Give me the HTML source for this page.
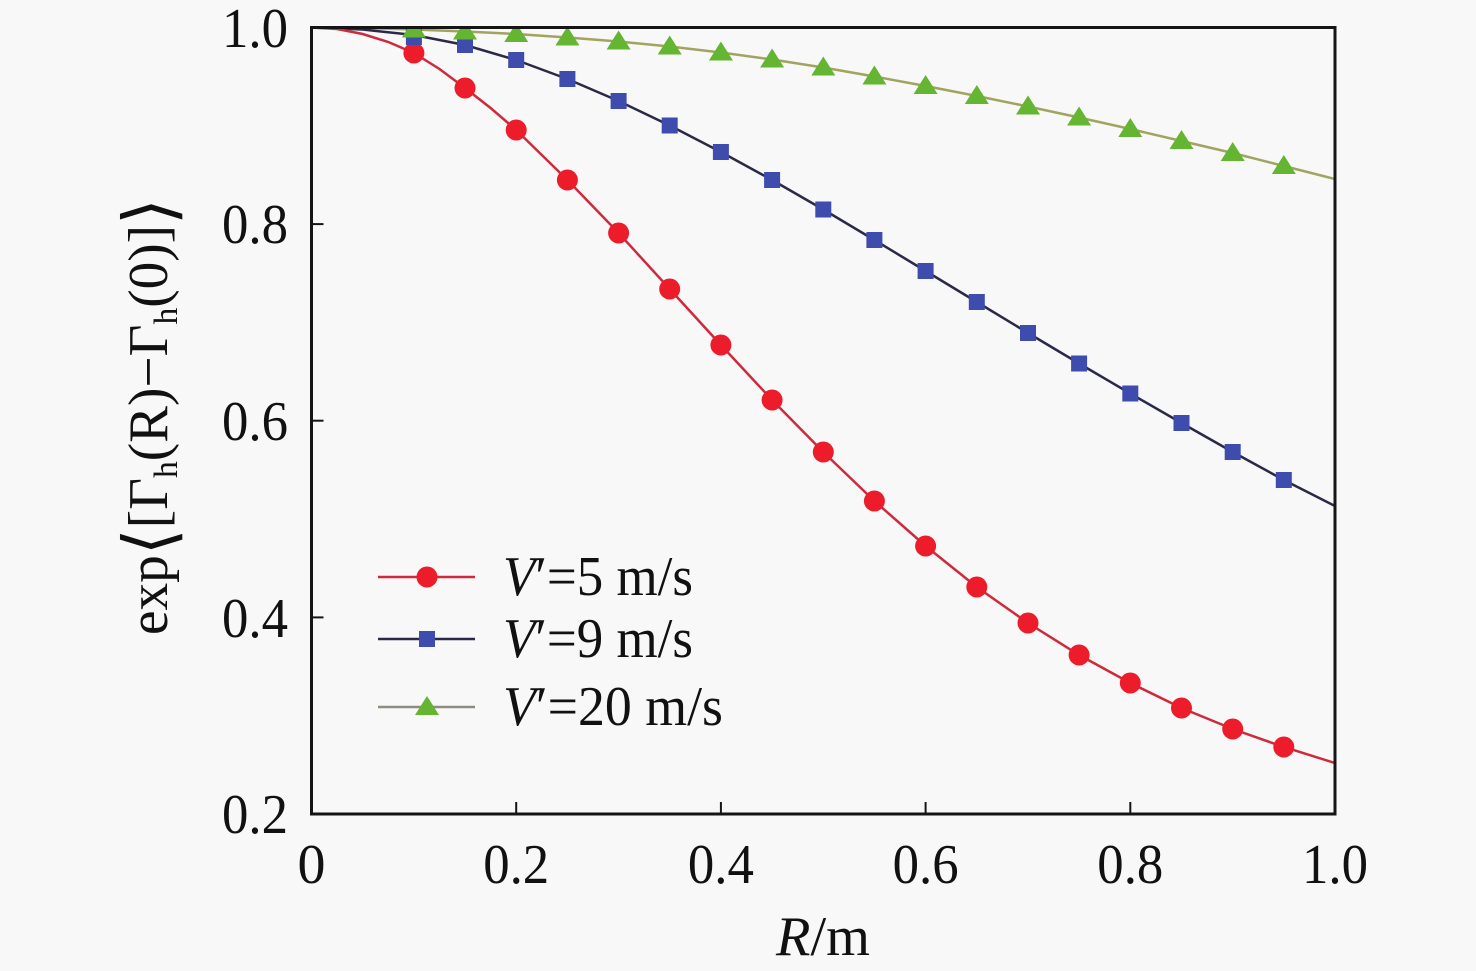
<!DOCTYPE html>
<html>
<head>
<meta charset="utf-8">
<style>
html,body{margin:0;padding:0;background:#f8f8f8;}
svg{display:block;}
text{font-family:"Liberation Serif","DejaVu Serif",serif;fill:#111;}
</style>
</head>
<body>
<svg width="1476" height="971" viewBox="0 0 1476 971" xmlns="http://www.w3.org/2000/svg">
<defs>
<clipPath id="pa"><rect x="311.5" y="27.5" width="1023.5" height="786.5"/></clipPath>
</defs>
<rect x="0" y="0" width="1476" height="971" fill="#f8f8f8"/>

<g clip-path="url(#pa)">
<!-- green line -->
<polyline fill="none" stroke="#a0a45e" stroke-width="2.5" points="311.5,27.5 362.7,28 413.9,29.5 465,31.5 516.2,34 567.4,37.5 618.6,41.5 669.7,46.5 720.9,52.5 772.1,59.5 823.3,67.5 874.4,76.5 925.6,86 976.8,96 1028,106.5 1079.1,117.5 1130.3,129 1181.5,141 1232.7,153 1283.8,166 1335,179"/>
<!-- blue line -->
<polyline fill="none" stroke="#2a2a48" stroke-width="2.5" points="311.5,27.5 362.7,29.5 413.9,35 465,45 516.2,60 567.4,79 618.6,101 669.7,125.5 720.9,152 772.1,180 823.3,209.5 874.4,240 925.6,271 976.8,302 1028,333 1079.1,363.5 1130.3,393.5 1181.5,423 1232.7,452 1283.8,480 1335,506"/>
<!-- red line -->
<polyline fill="none" stroke="#cf2a3c" stroke-width="2.5" points="311.5,27.5 337.1,29 362.7,34 388.3,42 413.9,53 439.5,69 465,88 490.6,108 516.2,130 567.4,180 618.6,233 669.7,289 720.9,345 772.1,400 823.3,452 874.4,501 925.6,546 976.8,587 1028,623 1079.1,655 1130.3,683 1181.5,708 1232.7,729 1283.8,747 1335,763"/>

<!-- red markers -->
<g fill="#ec1c2a">
<circle cx="413.9" cy="53" r="10.5"/><circle cx="465" cy="88" r="10.5"/><circle cx="516.2" cy="130" r="10.5"/><circle cx="567.4" cy="180" r="10.5"/><circle cx="618.6" cy="233" r="10.5"/><circle cx="669.7" cy="289" r="10.5"/><circle cx="720.9" cy="345" r="10.5"/><circle cx="772.1" cy="400" r="10.5"/><circle cx="823.3" cy="452" r="10.5"/><circle cx="874.4" cy="501" r="10.5"/><circle cx="925.6" cy="546" r="10.5"/><circle cx="976.8" cy="587" r="10.5"/><circle cx="1028" cy="623" r="10.5"/><circle cx="1079.1" cy="655" r="10.5"/><circle cx="1130.3" cy="683" r="10.5"/><circle cx="1181.5" cy="708" r="10.5"/><circle cx="1232.7" cy="729" r="10.5"/><circle cx="1283.8" cy="747" r="10.5"/>
</g>
<!-- blue markers -->
<g fill="#3e4cae">
<rect x="405.9" y="29" width="16" height="16"/><rect x="457" y="37" width="16" height="16"/><rect x="508.2" y="52" width="16" height="16"/><rect x="559.4" y="71" width="16" height="16"/><rect x="610.6" y="93" width="16" height="16"/><rect x="661.7" y="117.5" width="16" height="16"/><rect x="712.9" y="144" width="16" height="16"/><rect x="764.1" y="172" width="16" height="16"/><rect x="815.3" y="201.5" width="16" height="16"/><rect x="866.4" y="232" width="16" height="16"/><rect x="917.6" y="263" width="16" height="16"/><rect x="968.8" y="294" width="16" height="16"/><rect x="1020" y="325" width="16" height="16"/><rect x="1071.1" y="355.5" width="16" height="16"/><rect x="1122.3" y="385.5" width="16" height="16"/><rect x="1173.5" y="415" width="16" height="16"/><rect x="1224.7" y="444" width="16" height="16"/><rect x="1275.8" y="472" width="16" height="16"/>
</g>
<!-- green markers -->
<g fill="#64b532">
<polygon points="413.9,18.5 401.9,37.5 425.9,37.5"/>
<polygon points="465,20.5 453,39.5 477,39.5"/>
<polygon points="516.2,23 504.2,42 528.2,42"/>
<polygon points="567.4,26.5 555.4,45.5 579.4,45.5"/>
<polygon points="618.6,30.5 606.6,49.5 630.6,49.5"/>
<polygon points="669.7,35.5 657.7,54.5 681.7,54.5"/>
<polygon points="720.9,41.5 708.9,60.5 732.9,60.5"/>
<polygon points="772.1,48.5 760.1,67.5 784.1,67.5"/>
<polygon points="823.3,56.5 811.3,75.5 835.3,75.5"/>
<polygon points="874.4,65.5 862.4,84.5 886.4,84.5"/>
<polygon points="925.6,75 913.6,94 937.6,94"/>
<polygon points="976.8,85 964.8,104 988.8,104"/>
<polygon points="1028,95.5 1016,114.5 1040,114.5"/>
<polygon points="1079.1,106.5 1067.1,125.5 1091.1,125.5"/>
<polygon points="1130.3,118 1118.3,137 1142.3,137"/>
<polygon points="1181.5,130 1169.5,149 1193.5,149"/>
<polygon points="1232.7,142 1220.7,161 1244.7,161"/>
<polygon points="1283.8,155 1271.8,174 1295.8,174"/>
</g>
</g>

<!-- axes frame -->
<rect x="311.5" y="27.5" width="1023.5" height="786.5" fill="none" stroke="#151515" stroke-width="3"/>
<!-- ticks -->
<g stroke="#151515" stroke-width="2">
<line x1="516.2" y1="814" x2="516.2" y2="802"/>
<line x1="720.9" y1="814" x2="720.9" y2="802"/>
<line x1="925.6" y1="814" x2="925.6" y2="802"/>
<line x1="1130.3" y1="814" x2="1130.3" y2="802"/>
<line x1="311.5" y1="224.1" x2="323.5" y2="224.1"/>
<line x1="311.5" y1="420.7" x2="323.5" y2="420.7"/>
<line x1="311.5" y1="617.4" x2="323.5" y2="617.4"/>
</g>

<!-- y tick labels -->
<g font-size="56" text-anchor="end">
<text x="288" y="47" textLength="66" lengthAdjust="spacingAndGlyphs">1.0</text>
<text x="288" y="243" textLength="66" lengthAdjust="spacingAndGlyphs">0.8</text>
<text x="288" y="440" textLength="66" lengthAdjust="spacingAndGlyphs">0.6</text>
<text x="288" y="637" textLength="66" lengthAdjust="spacingAndGlyphs">0.4</text>
<text x="288" y="833" textLength="66" lengthAdjust="spacingAndGlyphs">0.2</text>
</g>
<!-- x tick labels -->
<g font-size="56" text-anchor="middle">
<text x="311.5" y="883">0</text>
<text x="516.2" y="883" textLength="66" lengthAdjust="spacingAndGlyphs">0.2</text>
<text x="720.9" y="883" textLength="66" lengthAdjust="spacingAndGlyphs">0.4</text>
<text x="925.6" y="883" textLength="66" lengthAdjust="spacingAndGlyphs">0.6</text>
<text x="1130.3" y="883" textLength="66" lengthAdjust="spacingAndGlyphs">0.8</text>
<text x="1335" y="883" textLength="66" lengthAdjust="spacingAndGlyphs">1.0</text>
</g>

<!-- x axis label -->
<text x="776" y="955" font-size="56" textLength="94" lengthAdjust="spacingAndGlyphs"><tspan font-style="italic">R</tspan>/m</text>

<!-- y axis label -->
<g transform="translate(167,635) rotate(-90)">
<text x="0" y="0" font-size="56" textLength="437" lengthAdjust="spacingAndGlyphs">exp<tspan font-family="DejaVu Serif, serif" font-size="70" dy="6">⟨</tspan><tspan dy="-6">[Γ</tspan><tspan font-size="34" dy="10">h</tspan><tspan dy="-10">(R)−Γ</tspan><tspan font-size="34" dy="10">h</tspan><tspan dy="-10">(0)]</tspan><tspan font-family="DejaVu Serif, serif" font-size="70" dy="6">⟩</tspan></text>
</g>

<!-- legend -->
<line x1="378" y1="577" x2="475" y2="577" stroke="#cf2a3c" stroke-width="2.5"/>
<circle cx="427" cy="577" r="10.5" fill="#ec1c2a"/>
<line x1="378" y1="639" x2="475" y2="639" stroke="#2a2a48" stroke-width="2.5"/>
<rect x="419" y="631" width="16" height="16" fill="#3e4cae"/>
<line x1="378" y1="707" x2="475" y2="707" stroke="#8c8c80" stroke-width="2.5"/>
<polygon points="427,696 415,715 439,715" fill="#64b532"/>

<g font-size="56">
<text x="503" y="595" textLength="190" lengthAdjust="spacingAndGlyphs"><tspan font-style="italic">V</tspan>′=5 m/s</text>
<text x="503" y="657" textLength="190" lengthAdjust="spacingAndGlyphs"><tspan font-style="italic">V</tspan>′=9 m/s</text>
<text x="503" y="725" textLength="220" lengthAdjust="spacingAndGlyphs"><tspan font-style="italic">V</tspan>′=20 m/s</text>
</g>
</svg>
</body>
</html>
